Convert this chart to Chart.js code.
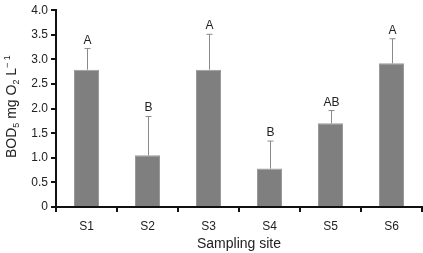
<!DOCTYPE html>
<html>
<head>
<meta charset="utf-8">
<script src="https://cdn.jsdelivr.net/npm/chart.js@4/dist/chart.umd.min.js"></script>
<style>
  body { margin: 0; background: #fff; }
  #wrap { width: 423px; height: 253px; }
</style>
</head>
<body>
<div id="wrap"><canvas id="bodChart"></canvas></div>
<script>
const sites = ['S1', 'S2', 'S3', 'S4', 'S5', 'S6'];
const bodMeans = [2.79, 1.05, 2.79, 0.78, 1.70, 2.92];
const bodErrors = [0.43, 0.79, 0.72, 0.56, 0.26, 0.50];
const groupLetters = ['A', 'B', 'A', 'B', 'AB', 'A'];

const FONT = '"Liberation Sans", Arial, Helvetica, sans-serif';

// error bars (upper only) and significance letters
const errorBarPlugin = {
  id: 'errorBars',
  afterDatasetsDraw(chart) {
    const ctx = chart.ctx;
    const meta = chart.getDatasetMeta(0);
    const y = chart.scales.y;
    ctx.save();
    meta.data.forEach((bar, i) => {
      const x = Math.round(bar.x) + 0.5;
      const top = y.getPixelForValue(bodMeans[i] + bodErrors[i]);
      ctx.strokeStyle = '#8a8a8a';
      ctx.lineWidth = 1;
      ctx.beginPath();
      ctx.moveTo(x, bar.y);
      ctx.lineTo(x, top);
      ctx.moveTo(x - 3, top);
      ctx.lineTo(x + 3, top);
      ctx.stroke();

      ctx.fillStyle = '#222';
      ctx.font = '12px ' + FONT;
      ctx.textAlign = 'center';
      ctx.textBaseline = 'alphabetic';
      ctx.fillText(groupLetters[i], x, top - 5);
    });
    ctx.restore();
  }
};

// y axis title with subscripts / superscript
const yTitlePlugin = {
  id: 'yTitle',
  afterDraw(chart) {
    const ctx = chart.ctx;
    const area = chart.chartArea;
    const parts = [
      ['BOD', 14, 0], ['5', 9, 3], [' mg O', 14, 0], ['2', 9, 3], [' L', 14, 0], ['\u2212 1', 9, -6]
    ];
    ctx.save();
    let total = 0;
    parts.forEach(p => { ctx.font = p[1] + 'px ' + FONT; total += ctx.measureText(p[0]).width; });
    ctx.translate(11, (area.top + area.bottom) / 2 - 2);
    ctx.rotate(-Math.PI / 2);
    ctx.fillStyle = '#222';
    ctx.textBaseline = 'alphabetic';
    let cx = -total / 2;
    parts.forEach(p => {
      ctx.font = p[1] + 'px ' + FONT;
      ctx.fillText(p[0], cx, 5 + p[2]);
      cx += ctx.measureText(p[0]).width;
    });
    ctx.restore();
  }
};

new Chart(document.getElementById('bodChart'), {
  type: 'bar',
  data: {
    labels: sites,
    datasets: [{
      data: bodMeans,
      backgroundColor: '#7f7f7f',
      borderColor: '#9a9a9a',
      borderWidth: 1,
      categoryPercentage: 1,
      barPercentage: 0.41
    }]
  },
  options: {
    responsive: true,
    maintainAspectRatio: false,
    animation: false,
    layout: { padding: { top: 5, right: 1, left: 0, bottom: 0 } },
    plugins: {
      legend: { display: false },
      tooltip: { enabled: false }
    },
    scales: {
      x: {
        afterFit: (scale) => { scale.height = 46; },
        border: { color: '#111', width: 2 },
        grid: {
          offset: true,
          drawOnChartArea: false,
          drawTicks: true,
          tickLength: 5,
          color: '#111',
          lineWidth: 2
        },
        ticks: {
          color: '#222',
          font: { family: FONT, size: 12 },
          padding: 7
        },
        title: {
          display: true,
          text: 'Sampling site',
          color: '#222',
          font: { family: FONT, size: 14 },
          padding: { top: 2, bottom: 0 }
        }
      },
      y: {
        min: 0,
        max: 4,
        afterFit: (scale) => { scale.width = 56; },
        border: { color: '#111', width: 2 },
        grid: {
          drawOnChartArea: false,
          drawTicks: true,
          tickLength: 5,
          color: '#111',
          lineWidth: 2
        },
        ticks: {
          stepSize: 0.5,
          color: '#222',
          font: { family: FONT, size: 12 },
          padding: 3,
          callback: (v) => v === 0 ? '0' : v.toFixed(1)
        }
      }
    }
  },
  plugins: [errorBarPlugin, yTitlePlugin]
});
</script>
</body>
</html>
